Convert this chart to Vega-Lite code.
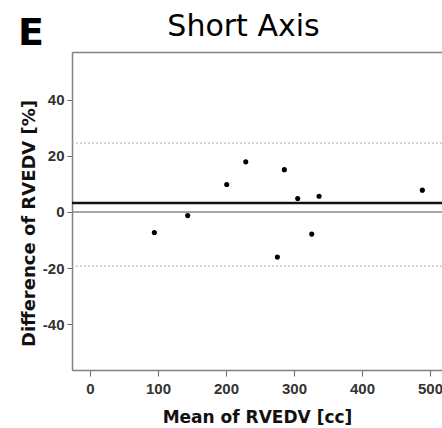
{
  "$schema": "https://vega.github.io/schema/vega-lite/v6.json",
  "autosize": "none",
  "padding": {"left": 72, "top": 52, "right": 0, "bottom": 58},
  "width": 370,
  "height": 318,
  "background": "white",
  "config": {"font": "DejaVu Sans", "view": {"stroke": null}},
  "title": {"text": "E", "fontSize": 38, "fontWeight": "bold", "color": "black", "anchor": "start", "frame": "group", "dx": -54, "offset": -42},
  "datasets": {
    "pts": [
      {"mean": 94.6, "diff": -7.3},
      {"mean": 143.6, "diff": -1.3},
      {"mean": 201, "diff": 9.8},
      {"mean": 229, "diff": 17.9},
      {"mean": 285.8, "diff": 15.1},
      {"mean": 305.4, "diff": 4.8},
      {"mean": 336.8, "diff": 5.6},
      {"mean": 326, "diff": -7.9},
      {"mean": 275.5, "diff": -16.1},
      {"mean": 488.7, "diff": 7.8}
    ],
    "lines": [
      {"kind": "mean", "value": 3.2},
      {"kind": "zero", "value": 0},
      {"kind": "limit", "value": 24.6},
      {"kind": "limit", "value": -19.3}
    ]
  },
  "layer": [
    {
      "data": {"name": "lines"},
      "transform": [{"filter": "datum.kind === 'limit'"}],
      "mark": {"type": "rule", "color": "#aaaaaa", "strokeWidth": 1, "strokeDash": [2, 2]},
      "encoding": {"y": {"field": "value", "type": "quantitative", "scale": {"domain": [-56.4, 57.1], "nice": false, "zero": false}}}
    },
    {
      "data": {"name": "lines"},
      "transform": [{"filter": "datum.kind === 'zero'"}],
      "mark": {"type": "rule", "color": "#8a8a8a", "strokeWidth": 1.5},
      "encoding": {"y": {"field": "value", "type": "quantitative"}}
    },
    {
      "data": {"name": "lines"},
      "transform": [{"filter": "datum.kind === 'mean'"}],
      "mark": {"type": "rule", "color": "#111111", "strokeWidth": 2.5},
      "encoding": {"y": {"field": "value", "type": "quantitative"}}
    },
    {
      "data": {"name": "pts"},
      "mark": {"type": "point", "opacity": 0},
      "encoding": {
        "x": {"field": "mean", "type": "quantitative",
          "axis": {"orient": "top", "labels": false, "ticks": false, "grid": false, "domainColor": "#808080", "domainWidth": 1.5,
            "title": "Short Axis", "titleFontSize": 30, "titleFontWeight": "normal", "titleColor": "black", "titleX": 171, "titleY": -17, "titleBaseline": "alphabetic", "titleAlign": "center"}},
        "y": {"field": "diff", "type": "quantitative"}
      }
    },
    {
      "data": {"name": "pts"},
      "mark": {"type": "circle", "color": "black", "opacity": 1, "size": 26},
      "encoding": {
        "x": {"field": "mean", "type": "quantitative",
          "scale": {"domain": [-26.5, 517.6], "nice": false, "zero": false},
          "axis": {"orient": "bottom", "values": [0, 100, 200, 300, 400, 500], "grid": false, "domainColor": "#808080", "domainWidth": 1.5,
            "tickColor": "#666", "tickSize": 6, "tickWidth": 1, "labelFont": "Liberation Sans", "labelFontSize": 15, "labelFontWeight": "bold", "labelColor": "#333", "labelPadding": 5,
            "labelExpr": "toString(datum.value)",
            "title": "Mean of RVEDV [cc]", "titleFontSize": 17, "titleFontWeight": "bold", "titleColor": "#111", "titlePadding": 13}},
        "y": {"field": "diff", "type": "quantitative",
          "axis": {"values": [-40, -20, 0, 20, 40], "grid": false, "domainColor": "#808080", "domainWidth": 1.5,
            "tickColor": "#666", "tickSize": 5, "tickWidth": 1, "labelFont": "Liberation Sans", "labelFontSize": 15, "labelFontWeight": "bold", "labelColor": "#333", "labelPadding": 3,
            "labelExpr": "toString(datum.value)",
            "title": "Difference of RVEDV [%]", "titleFontSize": 18, "titleFontWeight": "bold", "titleColor": "#111", "titlePadding": 4, "titleY": 171}}
      }
    }
  ],
  "resolve": {"axis": {"x": "independent"}}
}
